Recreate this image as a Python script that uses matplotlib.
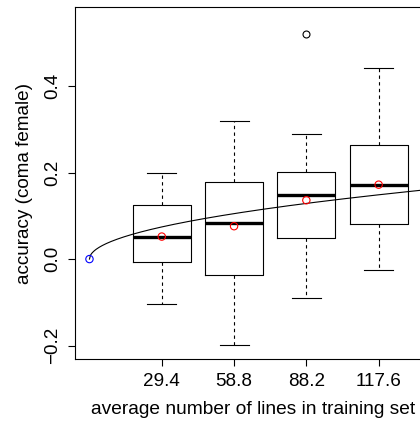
import numpy as np
import matplotlib
matplotlib.use("Agg")
import matplotlib.pyplot as plt

plt.rcParams['font.family'] = ['Liberation Sans', 'DejaVu Sans']

# values
positions = [29.4, 58.8, 88.2, 117.6]
tick_labels = ["29.4", "58.8", "88.2", "117.6"]
whislo = [-0.104, -0.198, -0.089, -0.026]
q1 = [-0.006, -0.036, 0.049, 0.080]
med = [0.052, 0.083, 0.148, 0.172]
q3 = [0.126, 0.179, 0.202, 0.263]
whishi = [0.198, 0.319, 0.290, 0.441]
fliers = [[], [], [0.521], []]
means = [0.052, 0.076, 0.136, 0.172]

origin_x, origin_y = 0.0, 0.0
fit_coef = 0.0137  # accuracy ~ coef * sqrt(lines)

stats = []
for i in range(len(positions)):
    stats.append(dict(med=med[i], q1=q1[i], q3=q3[i], whislo=whislo[i],
                      whishi=whishi[i], fliers=fliers[i]))

fig = plt.figure(figsize=(4.2, 4.24), dpi=100)
# the plot region runs past the right edge of the picture (cropped in the original)
ax = fig.add_axes([0.1786, 0.1533, 0.9295, 0.8295])

ax.bxp(stats, positions=positions, widths=0.8 * 29.4, showfliers=True,
       boxprops=dict(color='black', linewidth=0.8),
       medianprops=dict(color='black', linewidth=2.4, solid_capstyle='butt'),
       whiskerprops=dict(color='black', linewidth=0.8, linestyle=(0, (3, 3))),
       capprops=dict(color='black', linewidth=0.8),
       capwidths=0.4 * 29.4,
       flierprops=dict(marker='o', markerfacecolor='none', markeredgecolor='black',
                       markersize=5, markeredgewidth=0.8))

ax.scatter(positions, means, s=28, facecolors='none', edgecolors='red', linewidths=0.8, zorder=4)
ax.scatter([origin_x], [origin_y], s=28, facecolors='none', edgecolors='blue', linewidths=0.8, zorder=4)

xs = np.linspace(0, 160, 400)
ax.plot(xs, fit_coef * np.sqrt(xs), color='black', linewidth=0.8, zorder=3)

ax.set_xlim(-5.88, 152.88)
ax.set_ylim(-0.231, 0.582)
ax.set_xticks(positions)
ax.set_xticklabels(tick_labels)
ax.set_yticks([-0.2, 0.0, 0.2, 0.4])
ax.set_yticklabels(["\u22120.2", "0.0", "0.2", "0.4"], rotation=90, va='center')
ax.tick_params(labelsize=13.6, length=5, width=0.8, pad=5)
for s in ax.spines.values():
    s.set_linewidth(0.8)

ax.set_xlabel("average number of lines in training set", fontsize=13.8, labelpad=8)
ax.xaxis.label.set_x(0.456)
ax.set_ylabel("accuracy (coma female)", fontsize=13.6, labelpad=8)

fig.savefig("out.png", dpi=100)
